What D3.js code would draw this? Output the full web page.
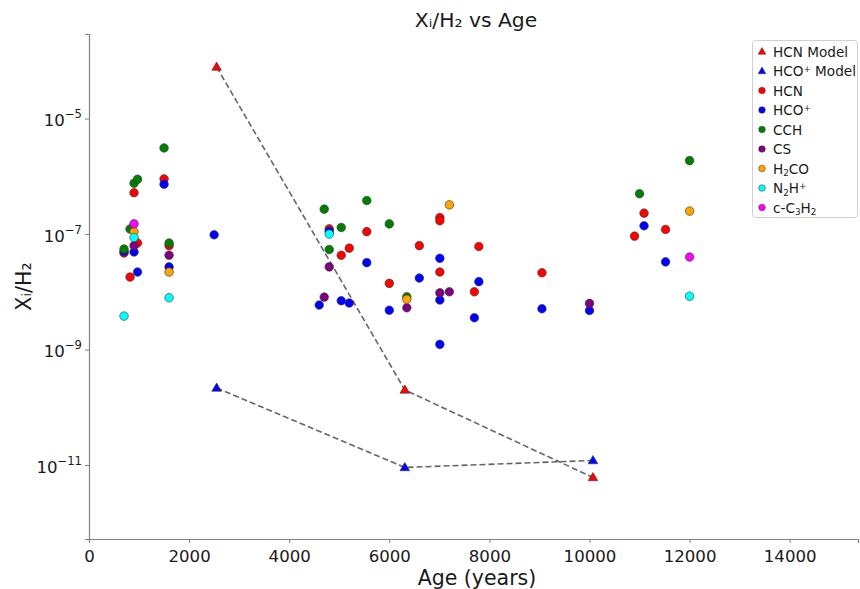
<!DOCTYPE html>
<html>
<head>
<meta charset="utf-8">
<script src="https://cdn.jsdelivr.net/npm/d3@7"></script>
<style>
  html, body { margin: 0; padding: 0; background: #fff; }
  svg { display: block; font-family: "DejaVu Sans", sans-serif; }
</style>
</head>
<body>
<svg id="chart" width="860" height="589"></svg>
<script>
// ---------------- data ----------------
const xTicks = [0, 2000, 4000, 6000, 8000, 10000, 12000, 14000];
const yTickExps = [-5, -7, -9, -11];

const hcnModel = [[2550, 7.8e-5], [6310, 2.0e-10], [10070, 6.1e-12]];
const hcoModel = [[2550, 2.16e-10], [6310, 9.1e-12], [10070, 1.2e-11]];

const HCN = [[700, 4.7e-8], [820, 1.8e-8], [900, 5.2e-7], [970, 7.0e-8], [1500, 9.0e-7],
  [1600, 6.3e-8], [4800, 1.23e-7], [5040, 4.3e-8], [5200, 5.7e-8], [5550, 1.1e-7],
  [6000, 1.4e-8], [6600, 6.3e-8], [7010, 2.2e-8], [7010, 1.93e-7], [7010, 1.7e-7],
  [7700, 1.0e-8], [7790, 6.1e-8], [9050, 2.14e-8], [10900, 9.2e-8], [11090, 2.3e-7],
  [11520, 1.2e-7]];
const HCOp = [[700, 5.0e-8], [900, 4.9e-8], [970, 2.2e-8], [1500, 7.3e-7], [1600, 2.7e-8],
  [2500, 9.7e-8], [4600, 5.9e-9], [4800, 1.12e-7], [5040, 7.0e-9], [5200, 6.4e-9],
  [5550, 3.2e-8], [6000, 4.8e-9], [6600, 1.73e-8], [7010, 3.8e-8], [7010, 7.2e-9],
  [7010, 1.23e-9], [7700, 3.55e-9], [7790, 1.5e-8], [9050, 5.1e-9], [10000, 4.75e-9],
  [11090, 1.39e-7], [11520, 3.3e-8]];
const CCH = [[700, 5.5e-8], [820, 1.22e-7], [900, 7.6e-7], [970, 8.9e-7], [1500, 3.1e-6],
  [1600, 7.0e-8], [4700, 2.7e-7], [4800, 5.4e-8], [5040, 1.3e-7], [5550, 3.8e-7],
  [6000, 1.5e-7], [6350, 8.2e-9], [11000, 5.0e-7], [12000, 1.87e-6]];
const CS = [[900, 6.3e-8], [1600, 4.3e-8], [4700, 8.1e-9], [4800, 2.7e-8], [6350, 5.3e-9],
  [7010, 9.6e-9], [7200, 1.0e-8], [10000, 6.3e-9]];
const H2CO = [[900, 1.1e-7], [1600, 2.2e-8], [6350, 7.4e-9], [7200, 3.2e-7], [12000, 2.5e-7]];
const N2Hp = [[700, 3.8e-9], [900, 8.7e-8], [1600, 7.9e-9], [4800, 1.0e-7], [12000, 8.4e-9]];
const cC3H2 = [[900, 1.5e-7], [12000, 4.0e-8]];

const models = [
  { name: "HCN Model", color: "red", data: hcnModel },
  { name: "HCO+ Model", color: "blue", data: hcoModel }
];
const species = [
  { name: "HCN", color: "red", data: HCN },
  { name: "HCO+", color: "blue", data: HCOp },
  { name: "CCH", color: "green", data: CCH },
  { name: "CS", color: "purple", data: CS },
  { name: "H2CO", color: "orange", data: H2CO },
  { name: "N2H+", color: "cyan", data: N2Hp },
  { name: "c-C3H2", color: "magenta", data: cC3H2 }
];

// ---------------- layout ----------------
const svg = d3.select("#chart");
const mLeft = 89, mRight = 858, mTop = 34, mBottom = 539;

const x = d3.scaleLinear().domain([0, 15365]).range([mLeft, mRight]);
const y = d3.scaleLog().domain([Math.pow(10, -12.28), Math.pow(10, -3.536)]).range([mBottom, mTop]);

const axisColor = "#808080";
const textColor = "#1a1a1a";

// x axis
const xAxis = svg.append("g").attr("transform", `translate(0,${mBottom})`)
  .call(d3.axisBottom(x).tickValues(xTicks).tickFormat(d3.format("d")).tickSizeOuter(0).tickSize(4));
xAxis.select(".domain").attr("stroke", axisColor).attr("stroke-width", 1.2);
xAxis.selectAll(".tick line").attr("stroke", axisColor).attr("stroke-width", 1);
xAxis.selectAll(".tick text").attr("fill", textColor).attr("font-size", 16.6)
  .attr("font-family", "DejaVu Sans").attr("dy", null).attr("y", 22.5);

// y axis
const yAxis = svg.append("g").attr("transform", `translate(${mLeft},0)`)
  .call(d3.axisLeft(y).tickValues(yTickExps.map(e => Math.pow(10, e))).tickFormat("").tickSizeOuter(0).tickSize(4));
yAxis.select(".domain").attr("stroke", axisColor).attr("stroke-width", 1.2);
yAxis.selectAll(".tick line").attr("stroke", axisColor).attr("stroke-width", 1);
yAxis.selectAll(".tick").each(function(d) {
  const e = Math.round(Math.log10(d));
  const t = d3.select(this).append("text")
    .attr("x", -7).attr("y", 7).attr("text-anchor", "end")
    .attr("fill", textColor).attr("font-family", "DejaVu Sans").attr("font-size", 16.6);
  t.append("tspan").text("10");
  t.append("tspan").attr("dy", -8).attr("font-size", 11.6).text("\u2212" + Math.abs(e));
});

// model lines
const line = d3.line().x(d => x(d[0])).y(d => y(d[1]));
models.forEach(m => {
  svg.append("path").datum(m.data).attr("d", line)
    .attr("fill", "none").attr("stroke", "#666").attr("stroke-width", 1.6)
    .attr("stroke-dasharray", "6,3");
});
const tri = d3.symbol().type(d3.symbolTriangle).size(40);
models.forEach(m => {
  svg.append("g").selectAll("path").data(m.data).join("path")
    .attr("d", tri)
    .attr("transform", d => `translate(${x(d[0])},${y(d[1]) + 0.5})`)
    .attr("fill", m.color).attr("stroke", "#333").attr("stroke-width", 0.6);
});

// scatter points
species.forEach(s => {
  svg.append("g").selectAll("circle").data(s.data).join("circle")
    .attr("cx", d => x(d[0])).attr("cy", d => y(d[1])).attr("r", 4.3)
    .attr("fill", s.color).attr("stroke", "#333").attr("stroke-width", 0.6);
});

// title & labels
svg.append("text").attr("x", 476).attr("y", 27)
  .attr("text-anchor", "middle").attr("font-size", 20.3).attr("fill", textColor)
  .text("X\u1D62/H\u2082 vs Age");
svg.append("text").attr("x", 477).attr("y", 585)
  .attr("text-anchor", "middle").attr("font-size", 20.5).attr("fill", textColor)
  .text("Age (years)");
svg.append("text").attr("transform", `translate(31,${(mTop + mBottom) / 2}) rotate(-90)`)
  .attr("text-anchor", "middle").attr("font-size", 20.5).attr("fill", textColor)
  .text("X\u1D62/H\u2082");

// legend
const lg = svg.append("g");
lg.append("rect").attr("x", 752.5).attr("y", 40.5).attr("width", 105).attr("height", 177)
  .attr("rx", 3).attr("fill", "#fff").attr("fill-opacity", 0.8)
  .attr("stroke", "#d0d0d0").attr("stroke-width", 1);
const rowY = i => 51.5 + i * 19.5;
const legendItems = models.map(m => ({ color: m.color, shape: "tri" }))
  .concat(species.map(s => ({ color: s.color, shape: "dot" })));
legendItems.forEach((it, i) => {
  const cy = rowY(i);
  if (it.shape === "tri") {
    lg.append("path").attr("d", d3.symbol().type(d3.symbolTriangle).size(26))
      .attr("transform", `translate(762,${cy + 0.5})`)
      .attr("fill", it.color).attr("stroke", "#333").attr("stroke-width", 0.5);
  } else {
    lg.append("circle").attr("cx", 762).attr("cy", cy).attr("r", 3.3)
      .attr("fill", it.color).attr("stroke", "#333").attr("stroke-width", 0.5);
  }
});
// legend text with sub/superscripts
const legendSpec = [
  [["HCN Model", 0]],
  [["HCO", 0], ["+", 1], [" Model", 0]],
  [["HCN", 0]],
  [["HCO", 0], ["+", 1]],
  [["CCH", 0]],
  [["CS", 0]],
  [["H", 0], ["2", -1], ["CO", 0]],
  [["N", 0], ["2", -1], ["H", 0], ["+", 1]],
  [["c-C", 0], ["3", -1], ["H", 0], ["2", -1]]
];
legendSpec.forEach((parts, i) => {
  const t = lg.append("text").attr("x", 773).attr("y", rowY(i) + 5)
    .attr("font-size", 13.6).attr("fill", textColor);
  let cur = 0;
  parts.forEach(([txt, lvl]) => {
    const target = lvl === 1 ? -4 : (lvl === -1 ? 2.5 : 0);
    t.append("tspan").attr("dy", target - cur)
      .attr("font-size", lvl === 0 ? 13.6 : 8.8)
      .text(txt);
    cur = target;
  });
});
</script>
</body>
</html>
